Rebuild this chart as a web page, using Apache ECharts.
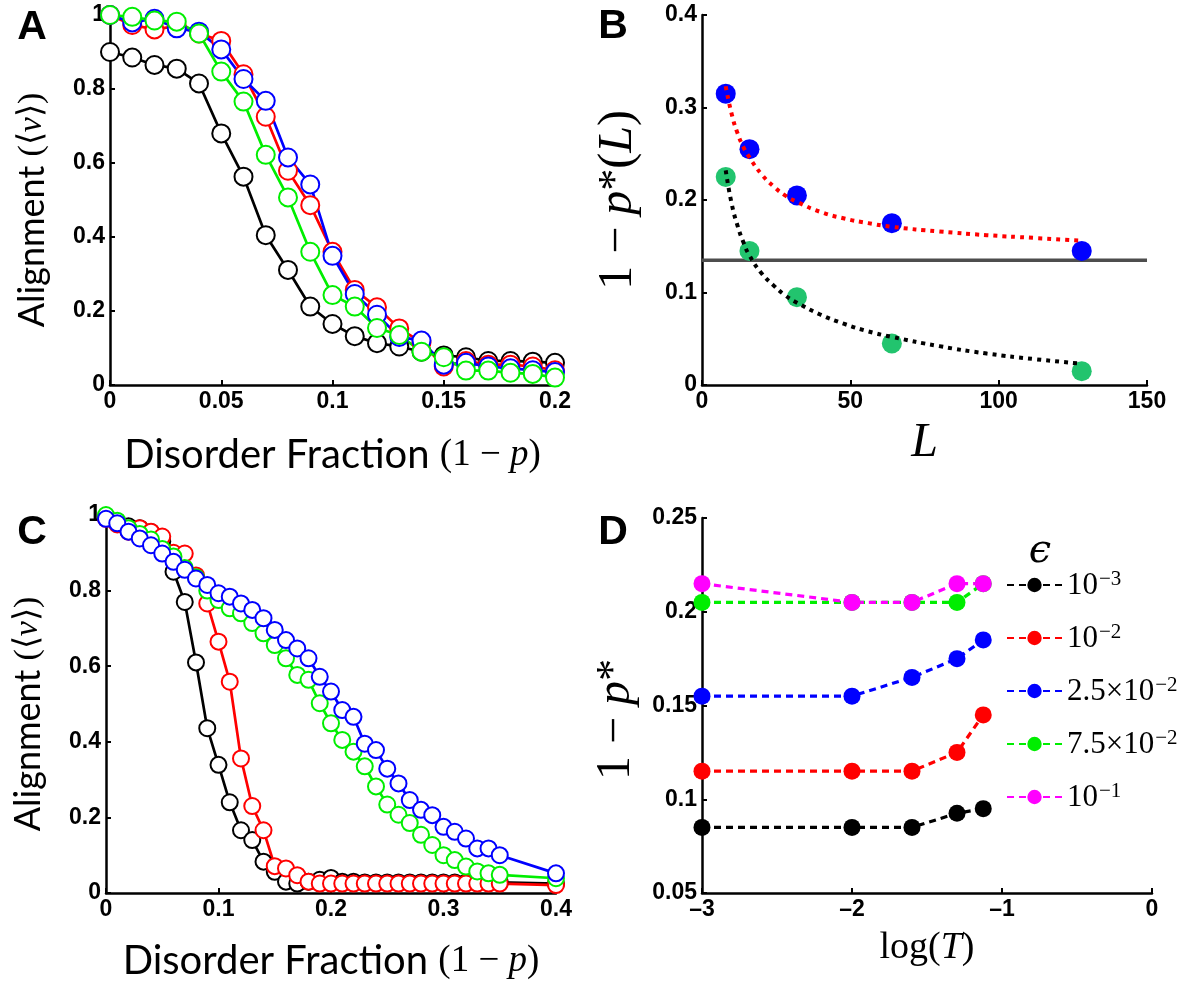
<!DOCTYPE html>
<html>
<head>
<meta charset="utf-8">
<script src="https://cdn.jsdelivr.net/npm/echarts@6/dist/echarts.min.js"></script>
<style>
html, body { margin: 0; padding: 0; background: #fff; }
#main { width: 1178px; height: 986px; }
</style>
</head>
<body>
<div id="main"></div>
<script>
// ---- panel A : alignment vs disorder fraction ----
const aX = [0, 0.01, 0.02, 0.03, 0.04, 0.05, 0.06, 0.07, 0.08, 0.09, 0.1, 0.11, 0.12, 0.13, 0.14, 0.15, 0.16, 0.17, 0.18, 0.19, 0.2];
const aBlack = [0.90, 0.885, 0.865, 0.855, 0.815, 0.68, 0.563, 0.405, 0.311, 0.212, 0.165, 0.132, 0.113, 0.104, 0.09, 0.08, 0.075, 0.065, 0.065, 0.063, 0.06];
const aRed = [1.0, 0.973, 0.961, 0.97, 0.95, 0.93, 0.84, 0.725, 0.579, 0.486, 0.36, 0.257, 0.21, 0.153, 0.115, 0.05, 0.065, 0.055, 0.055, 0.05, 0.04];
const aBlue = [1.0, 0.98, 0.99, 0.964, 0.955, 0.907, 0.827, 0.768, 0.615, 0.542, 0.349, 0.246, 0.19, 0.13, 0.12, 0.055, 0.06, 0.05, 0.045, 0.04, 0.035];
const aGreen = [1.0, 0.995, 0.985, 0.982, 0.95, 0.847, 0.766, 0.622, 0.507, 0.36, 0.243, 0.212, 0.154, 0.135, 0.09, 0.075, 0.039, 0.039, 0.033, 0.03, 0.02];

// ---- panel B : critical point vs system size ----
const bL = [8, 16, 32, 64, 128];
const bBlue = [0.315, 0.255, 0.205, 0.175, 0.145];
const bGreen = [0.225, 0.145, 0.095, 0.045, 0.015];
const fitL = [8, 10, 12, 14, 16, 20, 24, 28, 32, 40, 48, 56, 64, 80, 96, 112, 128];
const fitRed = [0.323, 0.293, 0.272, 0.257, 0.246, 0.228, 0.215, 0.205, 0.198, 0.187, 0.180, 0.175, 0.171, 0.166, 0.162, 0.159, 0.156];
const fitBlack = [0.232, 0.196, 0.172, 0.154, 0.140, 0.121, 0.108, 0.097, 0.089, 0.076, 0.066, 0.058, 0.052, 0.042, 0.034, 0.028, 0.023];
const limitL = [0, 150];
const limitVal = 0.135;

// ---- panel C ----
const cX = [0, 0.01, 0.02, 0.03, 0.04, 0.05, 0.06, 0.07, 0.08, 0.09, 0.1, 0.11, 0.12, 0.13, 0.14, 0.15, 0.16, 0.17, 0.18, 0.19, 0.2, 0.21, 0.22, 0.23, 0.24, 0.25, 0.26, 0.27, 0.28, 0.29, 0.3, 0.31, 0.32, 0.33, 0.34, 0.35, 0.4];
const cBlack = [0.995, 0.98, 0.97, 0.965, 0.955, 0.93, 0.85, 0.77, 0.61, 0.436, 0.339, 0.24, 0.166, 0.14, 0.083, 0.056, 0.03, 0.025, 0.03, 0.035, 0.04, 0.03, 0.03, 0.028, 0.028, 0.028, 0.028, 0.028, 0.028, 0.028, 0.028, 0.028, 0.028, 0.028, 0.028, 0.028, 0.025];
const cRed = [0.99, 0.975, 0.956, 0.965, 0.956, 0.943, 0.9, 0.898, 0.84, 0.766, 0.665, 0.559, 0.356, 0.23, 0.166, 0.071, 0.065, 0.047, 0.03, 0.025, 0.025, 0.025, 0.025, 0.025, 0.025, 0.025, 0.025, 0.025, 0.025, 0.025, 0.025, 0.025, 0.025, 0.025, 0.025, 0.025, 0.021];
const cGreen = [1.0, 0.985, 0.965, 0.95, 0.935, 0.91, 0.89, 0.86, 0.835, 0.8, 0.775, 0.753, 0.74, 0.714, 0.687, 0.656, 0.621, 0.577, 0.564, 0.502, 0.449, 0.405, 0.374, 0.335, 0.282, 0.234, 0.207, 0.185, 0.154, 0.127, 0.1, 0.087, 0.07, 0.057, 0.052, 0.048, 0.039];
const cBlue = [0.99, 0.978, 0.956, 0.938, 0.92, 0.898, 0.876, 0.855, 0.832, 0.815, 0.793, 0.784, 0.766, 0.749, 0.727, 0.696, 0.669, 0.647, 0.621, 0.572, 0.533, 0.484, 0.466, 0.395, 0.378, 0.329, 0.29, 0.246, 0.22, 0.206, 0.175, 0.162, 0.144, 0.118, 0.118, 0.1, 0.052];

// ---- panel D ----
const dX = [-3, -2, -1.6, -1.3, -1.125];
const dNames = ['e3', 'e2', 'e25', 'e75', 'e1'];
// legend text: [mantissa, exponent]
const dLabels = [['10', '−3'], ['10', '−2'], ['2.5×10', '−2'], ['7.5×10', '−2'], ['10', '−1']];
const dColors = ['#000000', '#ff0000', '#0000ff', '#00ee00', '#ff00ff'];
const dValues = [
	[0.085, 0.085, 0.085, 0.0925, 0.095],
	[0.115, 0.115, 0.115, 0.125, 0.145],
	[0.155, 0.155, 0.165, 0.175, 0.185],
	[0.205, 0.205, 0.205, 0.205, 0.215],
	[0.215, 0.205, 0.205, 0.215, 0.215]
];

const pair = (xs, ys) => xs.map((x, i) => [x, ys[i]]);

const dom = document.getElementById('main');
const myChart = echarts.init(dom, null, { renderer: 'canvas' });

const tickFont = 'Liberation Sans';
const sansFont = 'Lato';
const serifFont = 'Liberation Serif';

// MATLAB-like axis: black, ticks inside, no grid lines
function axis(gridIndex, min, max, interval, extra) {
	return Object.assign({
		type: 'value',
		gridIndex: gridIndex,
		min: min,
		max: max,
		interval: interval,
		axisLine: { show: true, onZero: false, lineStyle: { color: '#000', width: 2.5 } },
		axisTick: { show: true, inside: true, length: 5, lineStyle: { color: '#000', width: 2 } },
		splitLine: { show: false },
		axisLabel: {
			color: '#000', fontFamily: tickFont, fontWeight: 'bold', fontSize: 23, margin: 5,
			formatter: v => String(+v.toFixed(3)).replace('-', '–')
		}
	}, extra || {});
}

const xNameDisorder = {
	name: '{s|Disorder Fraction }{m|(1 − }{i|p}{m|)}',
	nameLocation: 'middle',
	nameTextStyle: {
		rich: {
			s: { fontFamily: sansFont, fontSize: 40, color: '#000' },
			m: { fontFamily: serifFont, fontSize: 37, color: '#000' },
			i: { fontFamily: serifFont, fontSize: 37, fontStyle: 'italic', color: '#000' }
		}
	}
};
const yNameAlign = {
	name: '{s|Alignment }{m|(⟨}{i|v}{m|⟩)}',
	nameLocation: 'middle',
	nameRotate: 90,
	nameGap: 60,
	nameTextStyle: {
		padding: [0, 20, 0, 0],
		rich: {
			s: { fontFamily: sansFont, fontSize: 36, color: '#000' },
			m: { fontFamily: serifFont, fontSize: 34, color: '#000' },
			i: { fontFamily: serifFont, fontSize: 34, fontStyle: 'italic', color: '#000' }
		}
	}
};

function openLine(xAxisIndex, xs, ys, color, size) {
	return {
		type: 'line',
		xAxisIndex: xAxisIndex,
		yAxisIndex: xAxisIndex,
		data: pair(xs, ys),
		symbol: 'emptyCircle',
		symbolSize: size,
		showSymbol: true,
		lineStyle: { color: color, width: 2.7 },
		itemStyle: { color: color, borderColor: color, borderWidth: 2.7 },
		animation: false,
		z: 3
	};
}

function dotLine(xs, ys, color) {
	return {
		type: 'line',
		xAxisIndex: 1,
		yAxisIndex: 1,
		data: pair(xs, ys),
		smooth: true,
		showSymbol: false,
		symbol: 'none',
		lineStyle: { color: color, width: 4, type: [4, 5] },
		animation: false,
		z: 4
	};
}

function filledPts(xs, ys, color) {
	return {
		type: 'scatter',
		xAxisIndex: 1,
		yAxisIndex: 1,
		data: pair(xs, ys),
		symbol: 'circle',
		symbolSize: 20,
		itemStyle: { color: color, opacity: 1 },
		animation: false,
		z: 3
	};
}

const supRich = {
	b: { fontFamily: serifFont, fontSize: 31, color: '#000', lineHeight: 32, verticalAlign: 'bottom' },
	s: { fontFamily: serifFont, fontSize: 21, color: '#000', lineHeight: 32, verticalAlign: 'top', padding: [0, 0, 0, 1] }
};

const option = {
	backgroundColor: '#fff',
	animation: false,
	grid: [
		{ left: 110, top: 15, width: 445, height: 370 },
		{ left: 702, top: 15, width: 445, height: 370 },
		{ left: 106, top: 515, width: 450, height: 378 },
		{ left: 702, top: 518, width: 450, height: 375 }
	],
	xAxis: [
		axis(0, 0, 0.2, 0.05, Object.assign({}, xNameDisorder, { nameGap: 50 })),
		axis(1, 0, 150, 50, {
			name: 'L', nameLocation: 'middle', nameGap: 34,
			nameTextStyle: { fontFamily: serifFont, fontSize: 48, fontStyle: 'italic', color: '#000' }
		}),
		axis(2, 0, 0.4, 0.1, Object.assign({}, xNameDisorder, { nameGap: 48 })),
		axis(3, -3, 0, 1, {
			name: '{m|log(}{i|T}{m|)}', nameLocation: 'middle', nameGap: 36,
			nameTextStyle: {
				rich: {
					m: { fontFamily: serifFont, fontSize: 38, color: '#000' },
					i: { fontFamily: serifFont, fontSize: 38, fontStyle: 'italic', color: '#000' }
				}
			}
		})
	],
	yAxis: [
		axis(0, 0, 1, 0.2, yNameAlign),
		axis(1, 0, 0.4, 0.1, {
			name: '{m|1 − }{i|p}{s|*}{m|(}{i|L}{m|)}', nameLocation: 'middle', nameRotate: 90, nameGap: 60,
			nameTextStyle: {
				rich: {
					m: { fontFamily: serifFont, fontSize: 48, color: '#000' },
					i: { fontFamily: serifFont, fontSize: 48, fontStyle: 'italic', color: '#000' },
					s: { fontFamily: serifFont, fontSize: 44, color: '#000', verticalAlign: 'top' }
				}
			}
		}),
		axis(2, 0, 1, 0.2, yNameAlign),
		axis(3, 0.05, 0.25, 0.05, {
			name: '{m|1 − }{i|p}{s|*}', nameLocation: 'middle', nameRotate: 90, nameGap: 62,
			nameTextStyle: {
				padding: [0, 28, 0, 0],
				rich: {
					m: { fontFamily: serifFont, fontSize: 48, color: '#000' },
					i: { fontFamily: serifFont, fontSize: 48, fontStyle: 'italic', color: '#000' },
					s: { fontFamily: serifFont, fontSize: 44, color: '#000', verticalAlign: 'top' }
				}
			}
		})
	],
	legend: {
		data: dNames,
		orient: 'vertical',
		left: 1006,
		top: 569,
		padding: 0,
		itemWidth: 55,
		itemHeight: 18,
		itemGap: 21,
		selectedMode: false,
		formatter: name => {
			const lb = dLabels[dNames.indexOf(name)];
			return '{b|' + lb[0] + '}{s|' + lb[1] + '}';
		},
		textStyle: { color: '#000', padding: 0, rich: supRich }
	},
	graphic: [
		{ type: 'text', x: 32, y: 28, style: { text: 'A', font: 'bold 41px "Liberation Sans"', fill: '#000', align: 'center', verticalAlign: 'middle' } },
		{ type: 'text', x: 613, y: 27, style: { text: 'B', font: 'bold 41px "Liberation Sans"', fill: '#000', align: 'center', verticalAlign: 'middle' } },
		{ type: 'text', x: 32, y: 533, style: { text: 'C', font: 'bold 41px "Liberation Sans"', fill: '#000', align: 'center', verticalAlign: 'middle' } },
		{ type: 'text', x: 613, y: 533, style: { text: 'D', font: 'bold 41px "Liberation Sans"', fill: '#000', align: 'center', verticalAlign: 'middle' } },
		{ type: 'text', x: 1040, y: 552, style: { text: 'ϵ', font: 'italic 40px "DejaVu Serif"', fill: '#000', align: 'center', verticalAlign: 'middle' } }
	],
	series: [
		// A
		openLine(0, aX, aBlack, '#000000', 18),
		openLine(0, aX, aRed, '#ff0000', 18),
		openLine(0, aX, aBlue, '#0000ff', 18),
		openLine(0, aX, aGreen, '#00ee00', 18),
		// B
		{
			type: 'line', xAxisIndex: 1, yAxisIndex: 1,
			data: limitL.map(l => [l, limitVal]),
			showSymbol: false, symbol: 'none',
			lineStyle: { color: '#4d4d4d', width: 3.5 },
			animation: false, z: 2
		},
		filledPts(bL, bBlue, '#0000ff'),
		filledPts(bL, bGreen, '#22c46e'),
		dotLine(fitL, fitRed, '#ff0000'),
		dotLine(fitL, fitBlack, '#000000'),
		// C
		openLine(2, cX, cBlack, '#000000', 16),
		openLine(2, cX, cRed, '#ff0000', 16),
		openLine(2, cX, cGreen, '#00ee00', 16),
		openLine(2, cX, cBlue, '#0000ff', 16)
	].concat(dNames.map((n, k) => ({
		// D
		name: n,
		type: 'line',
		xAxisIndex: 3,
		yAxisIndex: 3,
		data: pair(dX, dValues[k]),
		symbol: 'circle',
		symbolSize: 17,
		showSymbol: true,
		lineStyle: { color: dColors[k], width: 3.2, type: [7, 5] },
		itemStyle: { color: dColors[k] },
		animation: false,
		z: 3
	})))
};

myChart.setOption(option);
</script>
</body>
</html>
